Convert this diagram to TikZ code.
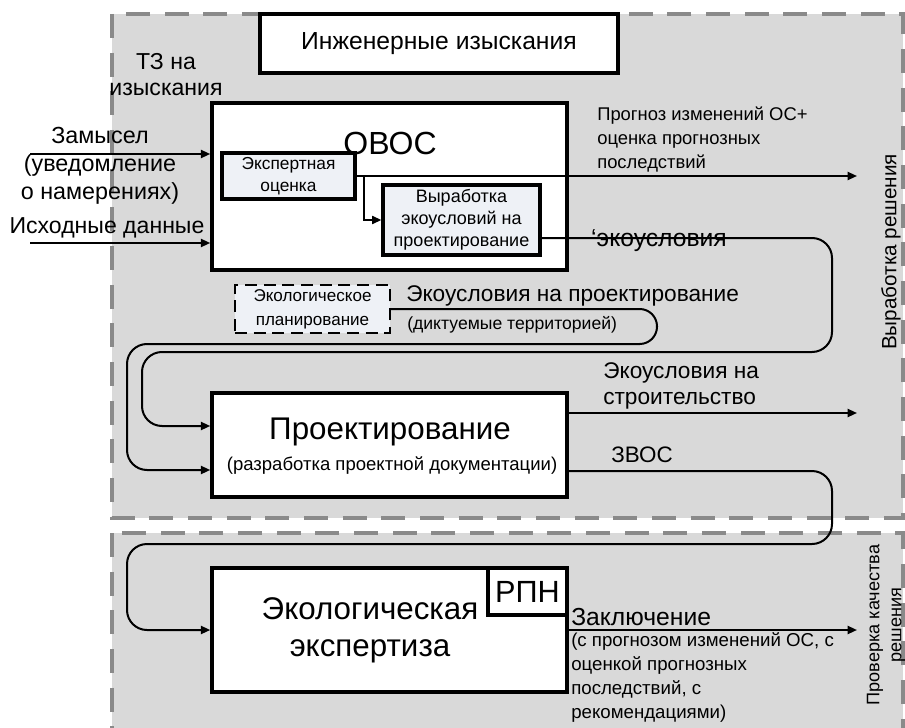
\documentclass[tikz,border=0pt]{standalone}
\usepackage{fontspec}
\setmainfont{Liberation Sans}
\usetikzlibrary{arrows.meta,calc}
\definecolor{bggray}{HTML}{D9D9D9}
\definecolor{dashgray}{HTML}{8A8A8A}
\definecolor{boxfill}{HTML}{EEF1F6}
\newcommand{\fsz}[2]{\fontsize{#1}{#2}\selectfont}
\begin{document}
\begin{tikzpicture}[x=0.75pt, y=-0.75pt,
  region/.style={fill=bggray, draw=dashgray, line width=2.6pt, dash pattern=on 18pt off 11pt},
  bigbox/.style={draw, line width=2.6pt, fill=white, inner sep=0pt},
  subbox/.style={draw, line width=2.4pt, fill=boxfill, inner sep=0pt, align=center},
  planbox/.style={draw, line width=1.8pt, dash pattern=on 9pt off 5pt, fill=boxfill, inner sep=0pt, align=center, font=\fsz{12.8pt}{18pt}},
  conn/.style={line width=1.5pt},
  arr/.style={conn, -{Triangle[length=7pt,width=6pt]}},
  txt/.style={inner sep=0pt, align=left},
  ctxt/.style={inner sep=0pt, align=center}]
\useasboundingbox (0,0) rectangle (905,727);
\fill[white] (0,0) rectangle (905,727);
% regions
\begin{scope}
\clip (0,0) rectangle (905,727);
\draw[region] (112,14) rectangle (903,518);
\draw[region] (112,533) rectangle (903,745);
\end{scope}
% boxes
\node[bigbox, minimum width=268.5pt, minimum height=44.25pt, font=\fsz{18.5pt}{22pt}] (ii) at (439,43.5) {Инженерные изыскания};
\node[bigbox, minimum width=266.25pt, minimum height=125.25pt] (ovos) at (389.5,186.5) {};
\node[ctxt, font=\fsz{24pt}{28pt}] (ovoslbl) at (390,143) {ОВОС};
\node[subbox, minimum width=99.75pt, minimum height=34.5pt, font=\fsz{13pt}{16.5pt}] (eo) at (288.5,176) {Экспертная\\оценка};
\node[subbox, minimum width=117.75pt, minimum height=52.5pt, font=\fsz{13.5pt}{16.5pt}] (vyr) at (461.5,220) {Выработка\\экоусловий на\\проектирование};
\node[planbox, minimum width=116.25pt, minimum height=36pt] (eplan) at (312.5,309) {Экологическое\\планирование};
\node[bigbox, minimum width=266.25pt, minimum height=78pt] (proj) at (389.5,445) {};
\node[ctxt, font=\fsz{23.5pt}{27pt}] (projlbl) at (390,432) {Проектирование};
\node[ctxt, font=\fsz{13.9pt}{16pt}] (projsub) at (392,466) {(разработка проектной документации)};
\node[bigbox, minimum width=266.25pt, minimum height=93pt] (ee) at (389.5,630) {};
\node[ctxt, font=\fsz{23.5pt}{28pt}] (eelbl) at (370,630) {Экологическая\\экспертиза};
\node[bigbox, minimum width=59.25pt, minimum height=35.25pt, font=\fsz{23pt}{27pt}] (rpn) at (527.5,591.5) {РПН};
% input texts
\node[ctxt, font=\fsz{17.3pt}{19.5pt}] (tz) at (166,75) {ТЗ на\\изыскания};
\node[ctxt, font=\fsz{17.5pt}{21pt}] (zam) at (100,166) {Замысел\\(уведомление\\о намерениях)};
\node[ctxt, font=\fsz{17.3pt}{19pt}] (isx) at (107,228) {Исходные данные};
% inputs
\coordinate (zin) at (30,154);
\coordinate (iin) at (30,243);
\draw[arr] (zin) -- (zin -| ovos.west);
\draw[arr] (iin) -- (iin -| ovos.west);
% outputs of OVOS
\coordinate (o1) at (857,176);
\draw[arr] (eo.east) -- (o1);
\draw[arr] ($(eo.east)+(7,0)$) |- (vyr.west);
\node[txt, anchor=west, font=\fsz{13.8pt}{18pt}] (prog) at (597,140) {Прогноз изменений ОС+\\оценка прогнозных\\последствий};
% loops
\draw[conn, -{Triangle[length=7pt,width=6pt]}, rounded corners=15pt] ($(vyr.east)+(0,18)$) -- (832,238) -- (832,352) -- (142,352) -- (142,426) -- ($(proj.west)+(0,-19)$);
\node[ctxt, font=\fsz{18.5pt}{21pt}] (eku) at (659,241) {‘экоусловия};
\draw[conn, -{Triangle[length=7pt,width=6pt]}] (eplan.east) [rounded corners=13pt] -- (657,309) -- (657,344) [rounded corners=15pt] -- (127,344) -- (127,470) -- ($(proj.west)+(0,25)$);
\node[txt, anchor=west, font=\fsz{17pt}{19pt}] (ekp) at (406,296) {Экоусловия на проектирование};
\node[txt, anchor=west, font=\fsz{13.2pt}{15pt}] (dikt) at (407,325) {(диктуемые территорией)};
% outputs of proj
\coordinate (o2) at (857,413);
\draw[arr] ($(proj.east)+(0,-32)$) -- (o2);
\node[txt, anchor=west, font=\fsz{17pt}{19.5pt}] (eks) at (603,386) {Экоусловия на\\строительство};
\draw[conn, -{Triangle[length=7pt,width=6pt]}, rounded corners=15pt] ($(proj.east)+(0,26)$) -- (832,471) -- (832,544) -- (127,544) -- (127,630) -- (ee.west);
\node[ctxt, font=\fsz{16.8pt}{19pt}] (zvos) at (642,455) {ЗВОС};
% output of ee
\coordinate (o3) at (857,630);
\draw[arr] (ee.east) -- (o3);
\node[txt, anchor=west, font=\fsz{18.5pt}{21pt}] (zakl) at (571,617) {Заключение};
\node[txt, anchor=west, font=\fsz{14pt}{18pt}] (zakls) at (571,677.5) {(с прогнозом изменений ОС, с\\оценкой прогнозных\\последствий, с\\рекомендациями)};
% side labels
\node[ctxt, rotate=90, font=\fsz{15.5pt}{18pt}] (vr) at (891,252) {Выработка решения};
\node[ctxt, rotate=90, font=\fsz{13.6pt}{16.5pt}] (pk) at (886,625) {Проверка качества\\решения};
\end{tikzpicture}
\end{document}
